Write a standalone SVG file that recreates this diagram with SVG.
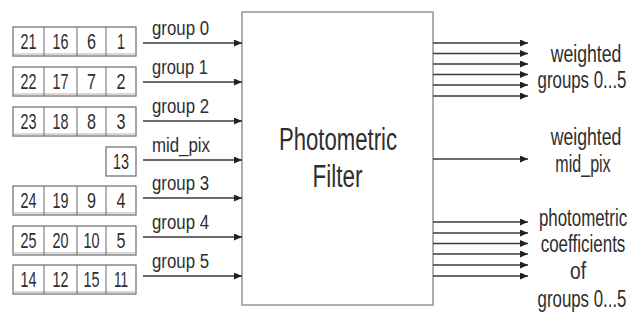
<svg xmlns="http://www.w3.org/2000/svg" width="629" height="320" viewBox="0 0 629 320">
<style>
.cell{fill:#fff;stroke:#6a6a6a;stroke-width:1.2}
.shadow{stroke:#b0b0b0;stroke-width:1}
.div{stroke:#6a6a6a;stroke-width:1}
.num{font-family:"Liberation Sans",Arial,sans-serif;font-size:22px;fill:#2e2e2e;text-anchor:middle}
.lbl{font-family:"Liberation Sans",Arial,sans-serif;font-size:20px;fill:#2e2e2e}
.rl{font-family:"Liberation Sans",Arial,sans-serif;font-size:24px;fill:#2e2e2e;text-anchor:middle}
.title{font-family:"Liberation Sans",Arial,sans-serif;font-size:31px;fill:#2e2e2e;text-anchor:middle}
.wire{stroke:#3a3a3a;stroke-width:1.3;fill:none;marker-end:url(#ah)}
</style>
<defs>
<marker id="ah" markerUnits="userSpaceOnUse" markerWidth="8" markerHeight="7" refX="8" refY="3.5" orient="auto">
<path d="M0,0 L8,3.5 L0,7 Z" fill="#222"/>
</marker>
<g id="row4">
<rect class="cell" x="13" y="0" width="123" height="29"/>
<line class="shadow" x1="13" y1="27" x2="136" y2="27"/>
<line class="div" x1="44" y1="0" x2="44" y2="29"/>
<line class="div" x1="77" y1="0" x2="77" y2="29"/>
<line class="div" x1="106" y1="0" x2="106" y2="29"/>
</g>
</defs>
<rect width="629" height="320" fill="#fff"/>

<g id="filter">
<rect x="242" y="12" width="191" height="293" fill="#fff" stroke="#9a9a9a" stroke-width="1.6"/>
<text class="title" x="338" y="150" textLength="118" lengthAdjust="spacingAndGlyphs">Photometric</text>
<text class="title" x="337.5" y="187" textLength="50" lengthAdjust="spacingAndGlyphs">Filter</text>
</g>

<g id="group0">
<use href="#row4" y="27"/>
<text class="num" x="28.5" y="49" textLength="16" lengthAdjust="spacingAndGlyphs">21</text>
<text class="num" x="60.5" y="49" textLength="16" lengthAdjust="spacingAndGlyphs">16</text>
<text class="num" x="91.5" y="49" textLength="9" lengthAdjust="spacingAndGlyphs">6</text>
<text class="num" x="121" y="49" textLength="8" lengthAdjust="spacingAndGlyphs">1</text>
</g>
<g id="group1">
<use href="#row4" y="67"/>
<text class="num" x="28.5" y="89" textLength="16" lengthAdjust="spacingAndGlyphs">22</text>
<text class="num" x="60.5" y="89" textLength="16" lengthAdjust="spacingAndGlyphs">17</text>
<text class="num" x="91.5" y="89" textLength="9" lengthAdjust="spacingAndGlyphs">7</text>
<text class="num" x="121" y="89" textLength="9" lengthAdjust="spacingAndGlyphs">2</text>
</g>
<g id="group2">
<use href="#row4" y="107"/>
<text class="num" x="28.5" y="129" textLength="16" lengthAdjust="spacingAndGlyphs">23</text>
<text class="num" x="60.5" y="129" textLength="16" lengthAdjust="spacingAndGlyphs">18</text>
<text class="num" x="91.5" y="129" textLength="9" lengthAdjust="spacingAndGlyphs">8</text>
<text class="num" x="121" y="129" textLength="9" lengthAdjust="spacingAndGlyphs">3</text>
</g>
<g id="midpix">
<rect class="cell" x="106" y="147" width="30" height="29"/>
<text class="num" x="121" y="169" textLength="16" lengthAdjust="spacingAndGlyphs">13</text>
</g>
<g id="group3">
<use href="#row4" y="186"/>
<text class="num" x="28.5" y="208" textLength="16" lengthAdjust="spacingAndGlyphs">24</text>
<text class="num" x="60.5" y="208" textLength="16" lengthAdjust="spacingAndGlyphs">19</text>
<text class="num" x="91.5" y="208" textLength="9" lengthAdjust="spacingAndGlyphs">9</text>
<text class="num" x="121" y="208" textLength="9" lengthAdjust="spacingAndGlyphs">4</text>
</g>
<g id="group4">
<use href="#row4" y="226"/>
<text class="num" x="28.5" y="248" textLength="16" lengthAdjust="spacingAndGlyphs">25</text>
<text class="num" x="60.5" y="248" textLength="16" lengthAdjust="spacingAndGlyphs">20</text>
<text class="num" x="91.5" y="248" textLength="16" lengthAdjust="spacingAndGlyphs">10</text>
<text class="num" x="121" y="248" textLength="9" lengthAdjust="spacingAndGlyphs">5</text>
</g>
<g id="group5">
<use href="#row4" y="265"/>
<text class="num" x="28.5" y="287" textLength="16" lengthAdjust="spacingAndGlyphs">14</text>
<text class="num" x="60.5" y="287" textLength="16" lengthAdjust="spacingAndGlyphs">12</text>
<text class="num" x="91.5" y="287" textLength="16" lengthAdjust="spacingAndGlyphs">15</text>
<text class="num" x="121" y="287" textLength="14" lengthAdjust="spacingAndGlyphs">11</text>
</g>

<g id="connectors">
<line class="wire" x1="143" y1="43" x2="242" y2="43"/>
<line class="wire" x1="143" y1="82" x2="242" y2="82"/>
<line class="wire" x1="143" y1="121" x2="242" y2="121"/>
<line class="wire" x1="143" y1="160" x2="242" y2="160"/>
<line class="wire" x1="143" y1="198" x2="242" y2="198"/>
<line class="wire" x1="143" y1="237" x2="242" y2="237"/>
<line class="wire" x1="143" y1="276" x2="242" y2="276"/>

<line class="wire" x1="433" y1="43" x2="528" y2="43"/>
<line class="wire" x1="433" y1="53.5" x2="528" y2="53.5"/>
<line class="wire" x1="433" y1="64" x2="528" y2="64"/>
<line class="wire" x1="433" y1="74.5" x2="528" y2="74.5"/>
<line class="wire" x1="433" y1="85" x2="528" y2="85"/>
<line class="wire" x1="433" y1="96" x2="528" y2="96"/>

<line class="wire" x1="433" y1="159" x2="528" y2="159"/>

<line class="wire" x1="433" y1="222" x2="528" y2="222"/>
<line class="wire" x1="433" y1="233" x2="528" y2="233"/>
<line class="wire" x1="433" y1="243.5" x2="528" y2="243.5"/>
<line class="wire" x1="433" y1="254" x2="528" y2="254"/>
<line class="wire" x1="433" y1="265" x2="528" y2="265"/>
<line class="wire" x1="433" y1="276" x2="528" y2="276"/>

<text class="lbl" x="152" y="35" textLength="57" lengthAdjust="spacingAndGlyphs">group 0</text>
<text class="lbl" x="152" y="74" textLength="56" lengthAdjust="spacingAndGlyphs">group 1</text>
<text class="lbl" x="152" y="113" textLength="57" lengthAdjust="spacingAndGlyphs">group 2</text>
<text class="lbl" x="152" y="152" textLength="58" lengthAdjust="spacingAndGlyphs">mid_pix</text>
<text class="lbl" x="152" y="190" textLength="57" lengthAdjust="spacingAndGlyphs">group 3</text>
<text class="lbl" x="152" y="229" textLength="57" lengthAdjust="spacingAndGlyphs">group 4</text>
<text class="lbl" x="152" y="268" textLength="57" lengthAdjust="spacingAndGlyphs">group 5</text>

<text class="rl" transform="translate(586,62) scale(0.7,1)" textLength="101" lengthAdjust="spacingAndGlyphs">weighted</text>
<text class="rl" transform="translate(582,88) scale(0.7,1)" textLength="127" lengthAdjust="spacingAndGlyphs">groups 0...5</text>
<text class="rl" transform="translate(586,145) scale(0.7,1)" textLength="101" lengthAdjust="spacingAndGlyphs">weighted</text>
<text class="rl" transform="translate(583,172) scale(0.7,1)" textLength="79" lengthAdjust="spacingAndGlyphs">mid_pix</text>
<text class="rl" transform="translate(583,226) scale(0.7,1)" textLength="126" lengthAdjust="spacingAndGlyphs">photometric</text>
<text class="rl" transform="translate(583,252) scale(0.7,1)" textLength="121" lengthAdjust="spacingAndGlyphs">coefficients</text>
<text class="rl" transform="translate(578,279) scale(0.7,1)" textLength="23" lengthAdjust="spacingAndGlyphs">of</text>
<text class="rl" transform="translate(582,307) scale(0.7,1)" textLength="127" lengthAdjust="spacingAndGlyphs">groups 0...5</text>
</g>
</svg>
